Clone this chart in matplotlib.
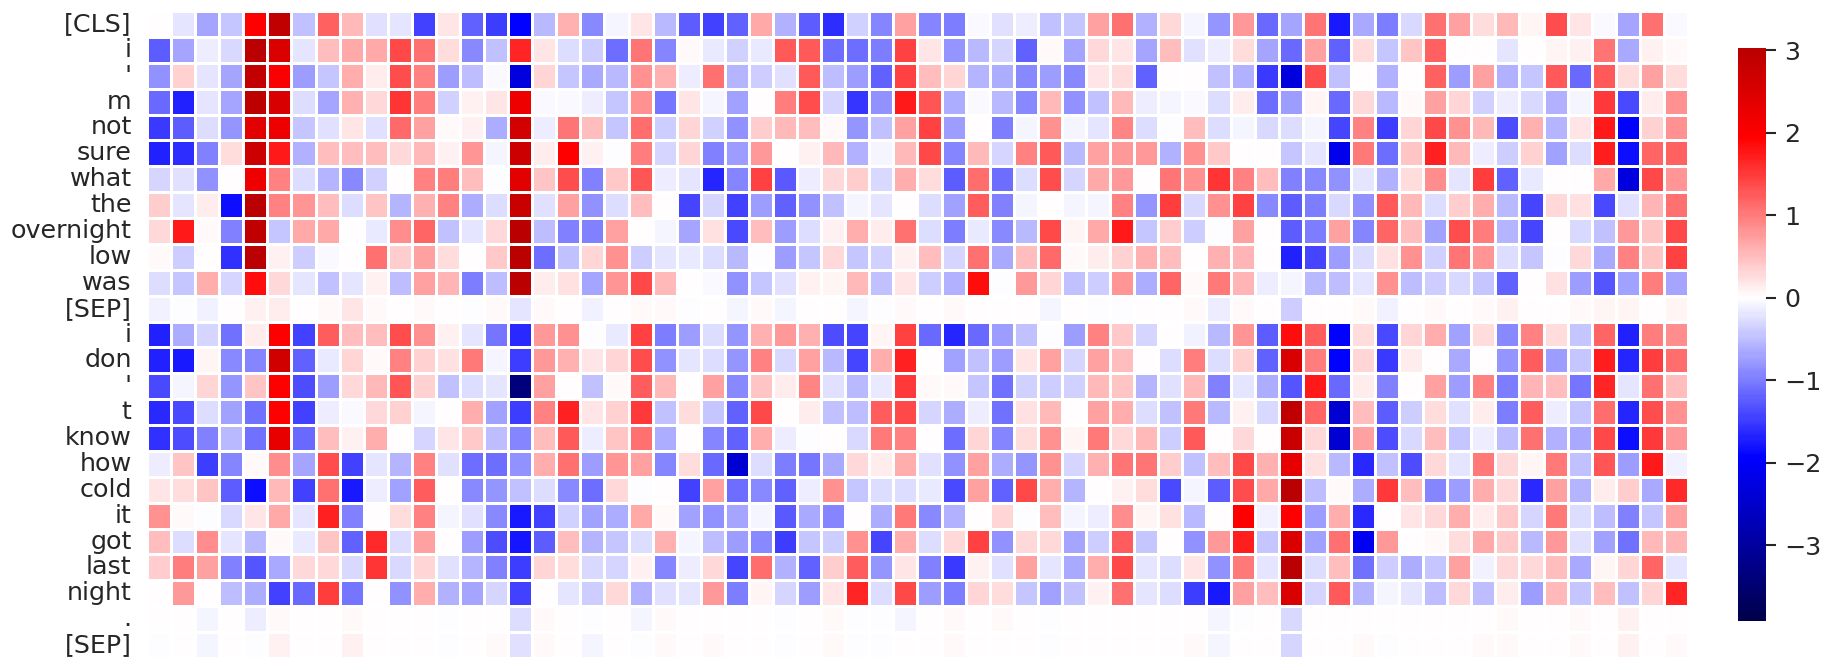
# -*- coding: utf-8 -*-
"""
token attention heatmap
"""

import matplotlib
matplotlib.use('Agg')
import matplotlib.pyplot as plt
import numpy as np
import seaborn as sns

tokens = ['[CLS]', 'i', "'", 'm', 'not', 'sure', 'what', 'the', 'overnight', 'low', 'was', '[SEP]',
          'i', 'don', "'", 't', 'know', 'how', 'cold', 'it', 'got', 'last', 'night', '.', '[SEP]']

row_00 = [0, -.18, -.7, -.42, 1.95, 2.9, -.48, 1.2, .55, -.24, -.18, -1.45, .18, -1.2, -1.5, -1.95, -.55, .6, -.9, -.08,
          .18, -.55, -1.25, -1.45, -1.2, .65, -.6, -1.25, -1.6, -.35, -.95, .7, -.95, -1, -.05, -.24, -.12, -.48, -.42, .72, 1.1, -.6, .3, -.08,
          -.8, .8, -1.15, -.7, 1.05, -1.75, -.65, -1, -.3, 1.1, .72, .24, .55, .08, 1.35, .18, -.05, -.7, 1.1, -.05]
row_01 = [-1.25, -.7, -.12, -.3, 3, 2.5, -.18, .48, .65, .65, 1.4, 1.1, .24, -.88, -.48, 1.65, .18, -.27, -.38, -1.1,
          1.05, -.95, .05, -.15, -.35, -.15, 1.25, 1.25, -1.1, -1.1, -1, 1.45, .18, -.8, -.55, -.33, -1.2, .05, -.7, .27, .18, -.7, .48, -.24,
          -.12, .25, -.7, -1.15, .72, -1.2, .24, -.46, .45, 1.2, 0, 0, -.18, .01, .08, .12, 1.05, -.65, .12, .05]
row_02 = [-.85, .36, -.21, -.68, 2.85, 2, -.76, -.42, .62, .15, 1.35, .95, -.76, -.5, -.05, -2.3, .33, -.46, -.65, -.55,
          .85, .6, -.12, 1.1, -.58, -.38, -.24, 1.25, -.5, -.76, -1.2, 1.45, .5, .33, -.58, -.63, -.88, -.76, -.88, .18, .24, -1.2, 0, 0,
          -.48, -.6, -1.52, -2.3, 1.35, -.48, 0, -.6, -.01, 1.2, -.76, .72, -.6, -.46, 1.25, -1.15, 1.25, .24, .72, .24]
row_03 = [-1.15, -1.7, -.18, -.68, 2.95, 2.55, -.27, -.68, .6, .3, 1.55, .98, -.36, .12, .18, 2.2, -.04, -.04, -.12, -.42,
          .85, -1.05, .2, -.08, -.72, 0, .98, 1.35, -.33, -1.55, -.85, 1.75, 1.3, -.63, -.04, -.55, -.88, .55, -.85, -.48, .55, -.12, -.08, -.04,
          -.27, .15, -1.1, -.76, .08, -1.15, .27, -.55, .03, .7, .33, -.36, -.12, -.3, -.6, -.08, 1.5, -1.38, .15, .85]
row_04 = [-1.52, -1.25, -.27, -.82, 2.4, 2.2, -.46, -.24, .2, -.24, 1.15, .7, .05, .12, -.63, 2.6, -.12, 1.05, .48, -.46,
          1.12, -.38, .33, -.36, -.85, .38, .55, .48, .02, -.82, -.48, .72, 1.45, -.76, 0, -1, -.08, .85, -.08, -.21, .92, -.27, -.03, .48,
          -.27, -.08, -.3, -.27, -.07, -1.42, .95, -1.5, .33, 1.38, .85, .55, -1.35, .6, -.58, .18, 1.75, -1.96, .36, .85]
row_05 = [-1.72, -1.6, -.98, .24, 2.72, 1.75, -.6, .48, .48, .48, .3, .55, .12, .82, -.08, 2.72, .13, 1.96, .12, -.03,
          .98, -.33, .33, -.98, -.76, .76, 0, .12, .55, -.6, -.08, .55, 1.38, -.92, .52, -.33, .95, 1.25, -.55, .7, .76, .76, -.6, .85,
          .42, 0, 0, -.46, -.18, -2.15, 1, -1.1, .45, 1.68, .55, -.12, -.38, .36, -.72, -.27, 1.7, -1.85, 1.18, 1.2]
row_06 = [-.33, -.24, -.85, 0, 2.2, .95, -.27, -.58, -.88, -.36, 0, .95, .98, .48, -.02, 2.4, .45, 1.35, -.98, .42,
          1.3, -.12, -.21, -1.65, -.92, 1.45, -1.28, -.12, .27, .38, -.3, .63, .24, -1.25, 1.12, -1.12, -.27, 1.35, -.33, .65, .76, 0, 1.05, .85,
          1.55, .95, .48, -.98, -.88, -.85, -.21, -.6, .24, .88, -.18, 1.47, -1.18, -.15, 0, 0, .65, -2.3, 1.38, .82]
row_07 = [.38, -.18, .15, -1.85, 3, .95, .82, .48, -.27, .45, -.58, .6, .95, -.63, -.27, 2.8, -.24, .72, -.85, -.27,
          .48, 0, -1.4, -.33, -1.47, -.76, -1.22, -.85, -.48, -.08, -.18, .01, -.27, -.72, 1.22, -.98, -.08, .01, -.08, -.08, .95, -.82, 1.47, -.3,
          .85, 1.45, -.88, -1.25, -1, -.3, -.85, 1.28, .55, -.27, .38, .63, -.55, -1.4, .27, .21, -1.38, -.24, .58, 1.1]
row_08 = [.27, 1.75, .05, -.98, 2.92, -.46, .65, .65, 0, -.15, .88, 1.18, -.48, -.18, .27, 3.03, -.5, -.98, -.98, .7,
          0, -.08, -.7, .21, -1.38, .5, -.76, -.27, .12, .63, .15, 1.08, -.27, -1, -.15, -.88, -.55, 1.4, .08, .65, 1.75, -.42, .38, -.38,
          -.03, .72, 0, -1.25, -1, .72, -.95, 1.18, .48, -.72, 1.35, .98, -.58, -1.4, 0, -.3, -.48, .76, .45, 1.38]
row_09 = [.04, -.38, 0, -1.58, 3, .12, -.38, -.04, 0, 1.1, .38, .7, .24, 0, .42, 3.03, -1.1, -.48, .33, .85,
          -.38, -.21, -.15, -.27, -.55, -.03, -.76, -.42, .27, -.46, -.36, .12, .48, -.33, 1.08, -.65, .5, 1.15, .04, .15, .36, .6, .48, 0,
          .6, .58, 0, -1.68, -1.42, -.76, -.27, .21, .85, -.36, 1.05, .82, -.27, -.42, -.03, .27, -.65, .95, .45, 1.45]
row_10 = [-.27, -.42, .63, -.33, 1.85, .3, -.21, -.48, -.21, .12, -.5, .7, .58, -1, -.5, 3, .13, .21, -.7, .82,
          1.4, .55, -.01, -.04, -.85, -.42, -.24, .12, .08, .55, -.48, .18, -.38, -.6, 1.85, -.03, .76, .33, -.48, -.38, .82, -.63, 1.18, .05,
          1, .58, -.12, -.07, -.55, -.5, -.21, .85, -.5, -.38, -.3, -.46, -1.22, 0, .21, -.76, -1.3, -.72, .98, -.7]
row_11 = [-.1, -.03, -.1, 0, .12, .13, 0, .03, .18, .03, 0, .02, 0, -.03, .02, -.21, .06, 0, -.1, 0,
          .04, .07, -.03, .01, -.07, .04, -.07, 0, 0, -.07, -.02, .07, 0, .06, 0, 0, 0, -.07, 0, -.03, -.03, 0, 0, .07,
          -.12, .03, 0, -.38, 0, 0, .03, -.1, 0, .05, 0, .07, .12, 0, 0, .06, .09, .09, 0, .09]
row_12 = [-1.72, -.63, -.33, -1.07, .15, 1.96, -1.47, 1.22, .48, .48, 1.35, .85, .12, -.21, -1.05, -1.62, .76, .85, -.02, -.15,
          1.45, -1, -.76, -.27, -.82, .6, .76, .6, -1.35, -1.4, .08, 1.45, -1.15, -1.65, -1.15, -.76, -.48, -.03, -.76, .95, .42, -.33, 0, -.1,
          -.55, .82, -1.25, 1.85, 1.22, -1.96, .24, -1.38, .33, .63, -.72, .24, -.88, .95, .24, -.46, 1.18, -1.68, .98, .88]
row_13 = [-1.72, -1.75, .08, -.88, -.92, 2.65, -1.22, -.15, .33, .03, .95, .36, .21, 1, -.08, -1.5, .76, .6, .18, .33,
          1.35, -.85, -.18, -.27, -.8, .95, -.3, .7, -.55, -1.4, .63, 1.68, 0, -.72, -.48, -.76, .18, .7, -.33, .7, .48, 0, -.27, .98,
          -.27, .36, -1.18, 2.55, .98, -1.96, .33, -1.52, .15, 0, -.65, 0, -.82, 1.22, -.76, -.46, 1.72, -1.65, 1.47, 1.12]
row_14 = [-1.38, -.08, .33, -.82, .45, 1.96, -1.35, -.76, .27, .55, 1.3, .36, -.48, -.27, -.21, -3.36, .72, 0, -.48, .04,
          1.22, .55, 0, .72, -.88, .45, .15, .92, -.24, -.55, -.15, 1.5, .04, .04, -.46, -1.08, -.36, -.38, -.36, .55, .45, -.58, -.24, .55,
          -.98, -.18, -.63, -1.3, 1.75, -1.15, .15, -.98, 0, .72, -.76, .95, -1, .58, .48, -1.05, 1.65, -.21, 1.1, .48]
row_15 = [-1.62, -1.38, -.27, -.72, -1.08, 1.96, -1.47, -.12, -.05, .27, .36, -.08, 0, .63, -.72, -1.5, .95, 1.68, .18, .36,
          1.52, -.48, .24, -.42, -1.22, 1.4, 0, .15, -.48, -.5, 1.22, 1.38, -.33, -.63, -.12, -1.08, .21, .55, 0, .7, .63, -.27, -.48, 1,
          -.55, .12, -.3, 2.9, 1.18, -2.4, .5, -1.25, -.38, .24, -.24, .13, -1, 1.22, -.12, -.42, 1.12, -1.65, 1.35, .85]
row_16 = [-1.58, -1.35, -.98, -.55, -1.08, 2.3, -1.15, .48, .12, .63, 0, -.33, .18, .42, -.5, -.95, .48, 1.25, -.13, .45,
          1.1, -.63, 0, -.92, -1.22, .63, -.12, -.03, 0, -.3, 1, .95, 0, -1.1, .33, -.92, .24, .85, .08, 1, .3, .55, -.38, 1.28,
          0, .3, 0, 2.75, .27, -2.45, .7, -1.35, -.3, .48, -.46, -.13, -.5, 1.1, -.6, -.65, 1.4, -1.85, 1.52, .8]
row_17 = [-.12, .45, -1.5, -.95, .04, .88, -.7, 1.35, -1.47, -.18, -.58, .95, -.24, -1.12, -1.1, -.85, .63, 1.1, -.76, .82,
          .72, -.95, .24, -1.15, -2.4, -.27, -1, -1.05, -.65, .27, .15, .63, -.24, -.85, .7, -.63, -.82, .85, -.33, .6, 1.05, 1.05, .38, -.48,
          .5, 1.4, .6, 2.3, .21, -.55, -1.62, -.48, -1.35, .27, -.21, 1, .27, .08, 1, -.48, 1.3, -.76, 1.75, -.1]
row_18 = [.18, .24, .45, -1.25, -1.85, .55, -1.47, 1.1, -1.75, -.12, -.72, 1.22, 0, -.88, -.8, -.48, -.27, -.88, -1.1, .27,
          -.03, 0, -1.45, .72, -1.12, -.88, -1.18, -.13, .85, -.42, -.27, -.27, -.15, -1.38, .7, -1.18, 1.38, .63, -.58, 0, .12, .24, -1.38, -.07,
          -1.25, 1.35, .65, 3, -.5, .04, -.63, 1.5, .48, -.95, -.76, .63, .27, -1.62, .72, -.58, .13, .38, -.65, 1.62]
row_19 = [.85, .03, -.03, -.3, .18, .65, -.18, 1.68, -.98, 0, .24, .95, -.07, -.24, -.88, -1.75, -1.47, -.36, -.72, -.63,
          .65, .05, -.72, -.85, -.7, -.07, -1.28, -.65, -.92, 0, -.63, 1, -.88, -.6, 0, .33, -.03, .48, -.07, -.13, .88, .08, .21, -.55,
          0, 1.96, -.1, 1.96, -.76, .63, -1.62, 0, .18, .27, .63, .13, .42, -.33, 1, -.27, -.5, -.98, -.42, .72]
row_20 = [.48, -.27, .88, -.18, -.55, .03, -.15, .45, -1.18, 1.62, -.27, .7, 0, -.76, -1.35, -1.78, -1.25, .48, -.58, -.42,
          -.27, .6, -.08, -.5, -.76, -.88, -1.5, -.46, -.38, .85, -1.4, .63, -.27, .3, 1.45, -.85, .27, .27, -.7, -.38, 1.22, -.46, 0, -.85,
          .76, 1.72, -.42, 2.5, -.72, 1.1, -2.05, .76, 0, .06, .24, .65, .42, -.55, .76, -.24, -.72, -1.08, .55, .58]
row_21 = [.38, .98, .7, -.98, -1.3, -.65, .27, .27, -.3, 1.55, -.3, .33, -.24, -.58, -.98, -1.5, .33, .24, -.3, -.33,
          .12, -.95, -.12, .27, -1.4, 1.12, -.6, -1.18, .38, 1.22, -.82, .18, -.98, -1.52, .1, -.24, .72, -.18, -.65, .63, 1.38, -.21, -.27, .18,
          -.85, 1, -.18, 3, -.27, .48, -1.08, -.38, -.63, -.42, .72, -.1, .27, .27, .48, -.65, .08, .33, 1.18, -.18]
row_22 = [.01, .76, 0, -.5, -.63, -1.47, -1.15, 1.47, -1.05, 0, -.85, .63, -.6, -.7, -.33, -1.47, 0, -.18, -.38, .27,
          -.6, -.24, -.21, .76, -1, .08, -.33, -.76, .18, 1.65, -.27, 1.38, -.76, -1, .33, .24, -.42, -.72, -.48, .1, 1.1, -.21, -.27, -1.5,
          -1.75, .7, .48, 2.55, -.33, 1.25, -.58, -.08, -.21, -.5, .3, -.5, .15, -.76, .55, -.46, .48, -.48, .33, 1.65]
row_23 = [-.01, -.01, -.08, 0, -.12, .06, 0, 0, .06, 0, 0, 0, -.03, 0, 0, -.27, .03, 0, -.03, 0,
          -.08, .03, 0, 0, 0, 0, -.03, 0, .03, -.03, -.03, -.08, 0, .06, 0, .03, 0, -.03, 0, 0, 0, 0, 0, 0,
          -.08, -.03, 0, -.3, 0, 0, 0, 0, 0, 0, 0, 0, .03, 0, 0, .07, 0, .1, 0, 0]
row_24 = [-.03, 0, -.07, 0, -.03, .12, 0, 0, .12, 0, 0, 0, -.03, 0, .02, -.24, .03, 0, -.07, 0,
          -.03, .03, 0, .03, 0, 0, -.03, 0, .03, -.03, -.03, 0, 0, .03, 0, 0, 0, -.02, 0, 0, 0, 0, 0, .03,
          -.07, 0, 0, -.33, 0, 0, .03, -.03, 0, 0, 0, .03, .06, 0, 0, .07, 0, .12, 0, .03]

rows = [row_00, row_01, row_02, row_03, row_04, row_05, row_06, row_07, row_08, row_09, row_10, row_11, row_12,
        row_13, row_14, row_15, row_16, row_17, row_18, row_19, row_20, row_21, row_22, row_23, row_24]
scores = np.array(rows)

W, H = 1831, 670

sns.set_theme(style='white')
plt.rcParams['font.family'] = ['DejaVu Sans']

fig = plt.figure(figsize=(W / 100, H / 100), dpi=100)
ax = fig.add_axes([147 / W, 1 - 658 / H, (1688 - 147) / W, (658 - 11) / H])
cax = fig.add_axes([1738 / W, 1 - 621 / H, 28 / W, (621 - 48) / H])

sns.heatmap(scores, ax=ax, cbar_ax=cax, cmap='seismic', center=0, vmin=-3.92, vmax=3.03,
            linewidths=1, linecolor='white', xticklabels=False, yticklabels=tokens)

ax.tick_params(axis='y', length=0, labelsize=18.3, labelrotation=0, pad=11, labelcolor='.15')
ax.tick_params(axis='x', length=0)
cax.set_yticks([-3, -2, -1, 0, 1, 2, 3])
cax.tick_params(axis='y', length=7, width=1.5, labelsize=18.3, color='.15', labelcolor='.15', pad=6, right=True)

fig.savefig('out.png', dpi=100)
